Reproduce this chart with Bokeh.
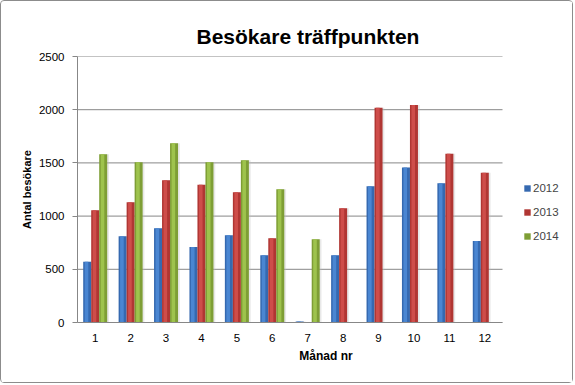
from bokeh.plotting import figure
from bokeh.models import (ColumnDataSource, Range1d, Legend, LegendItem,
                          FixedTicker, NumeralTickFormatter)
from bokeh.transform import dodge
from bokeh.embed import file_html
from bokeh.resources import INLINE

# ---------------- data ----------------
months = ["1", "2", "3", "4", "5", "6", "7", "8", "9", "10", "11", "12"]
series_names = ["2012", "2013", "2014"]
v2012 = [570, 810, 885, 710, 820, 632, 10, 632, 1280, 1457, 1309, 765]
v2013 = [1055, 1131, 1337, 1294, 1225, 792, float("nan"), 1074, 2018, 2043, 1585, 1407]
v2014 = [1582, 1507, 1685, 1507, 1525, 1253, 783, float("nan"), float("nan"),
         float("nan"), float("nan"), float("nan")]
y_ticks = [0, 500, 1000, 1500, 2000, 2500]
title_text = "Besökare träffpunkten"
x_title = "Månad nr"
y_title = "Antal besökare"

# ---------------- styling ----------------
base_cols = ["#3569B0", "#B03633", "#7E9E35"]
hi_cols = ["#4C8AD6", "#D2504C", "#A2C650"]
grid_col = "#878787"
FONT = "Liberation Sans"

W, H = 573, 383
L, R, T, B = 76, 0, 55, 62
cat_px = 425 / len(months)          # width of one month slot in pixels
x_end = 0.5 + (W - L - R) / cat_px   # extra room at right holds the legend

xpos = list(range(1, len(months) + 1))
src = ColumnDataSource(dict(x=xpos, s2012=v2012, s2013=v2013, s2014=v2014))

p = figure(width=W, height=H, x_range=Range1d(0.5, x_end),
           y_range=Range1d(0, 2500), output_backend="svg", toolbar_location=None,
           min_border_left=L, min_border_right=R, min_border_top=T, min_border_bottom=B,
           title=title_text)
p.title.align = "left"
p.title.offset = 119
p.title.text_font = FONT
p.title.text_font_style = "bold"
p.title.text_font_size = "21px"
p.title.text_color = "black"
p.title.standoff = 17
p.outline_line_color = None
p.background_fill_color = "white"
p.border_fill_color = "white"
p.styles = {"border": "1px solid #8c8c8c", "border-radius": "4px"}

# horizontal gridlines only across the month slots
p.xgrid.grid_line_color = None
p.ygrid.grid_line_color = None
p.segment(x0=[0.5] * len(y_ticks), x1=[len(months) + 0.5] * len(y_ticks),
          y0=y_ticks, y1=y_ticks, line_color=grid_col, line_width=1, level="underlay")

bw = 0.226
cols_keys = ["s2012", "s2013", "s2014"]
offsets = [-bw, 0.0, bw]
renderers = []
for i, key in enumerate(cols_keys):
    p.vbar(x=dodge("x", offsets[i] + 0.05), top=key, width=bw,
           source=src, fill_color="#bdbdbd", fill_alpha=0.35, line_color=None)
for i, key in enumerate(cols_keys):
    r = p.vbar(x=dodge("x", offsets[i]), top=key, width=bw,
               source=src, fill_color=base_cols[i], line_color=None)
    p.vbar(x=dodge("x", offsets[i] - 0.02), top=key, width=bw * 0.45,
           source=src, fill_color=hi_cols[i], fill_alpha=0.9, line_color=None)
    renderers.append(r)

# axes
p.yaxis.ticker = FixedTicker(ticks=y_ticks)
p.yaxis.formatter = NumeralTickFormatter(format="0")
p.yaxis.minor_tick_line_color = None
p.yaxis.major_tick_in = 0
p.yaxis.major_tick_out = 5
p.yaxis.major_tick_line_color = grid_col
p.yaxis.axis_line_color = grid_col
p.yaxis.major_label_standoff = 8
p.yaxis.axis_label = y_title
p.yaxis.axis_label_standoff = 3
p.xaxis.ticker = FixedTicker(ticks=xpos)
p.xaxis.major_label_overrides = {x: m for x, m in zip(xpos, months)}
p.xaxis.bounds = (0.5, len(months) + 0.5)
p.xaxis.minor_tick_line_color = None
p.xaxis.major_tick_line_color = None
p.xaxis.major_tick_out = 0
p.xaxis.major_tick_in = 0
p.xaxis.axis_line_color = grid_col
p.xaxis.major_label_standoff = 11
p.xaxis.axis_label = x_title
p.xaxis.axis_label_standoff = 4
for ax in (p.xaxis, p.yaxis):
    ax.major_label_text_font = FONT
    ax.major_label_text_font_size = "11.5px"
    ax.major_label_text_color = "black"
    ax.axis_label_text_font = FONT
    ax.axis_label_text_font_style = "bold"
    ax.axis_label_text_color = "black"
p.xaxis.axis_label_text_font_size = "12px"
p.yaxis.axis_label_text_font_size = "11px"

# legend
legend = Legend(items=[LegendItem(label=series_names[i], renderers=[renderers[i]])
                       for i in range(3)],
                location=(446, 80), orientation="vertical",
                glyph_width=8, glyph_height=8, label_height=8, spacing=12,
                label_standoff=2, padding=0, margin=0,
                border_line_color=None, background_fill_alpha=0,
                label_text_font=FONT, label_text_font_size="11.5px",
                label_text_baseline="middle")
p.add_layout(legend, "center")

open("out.html", "w").write(file_html(p, INLINE))
